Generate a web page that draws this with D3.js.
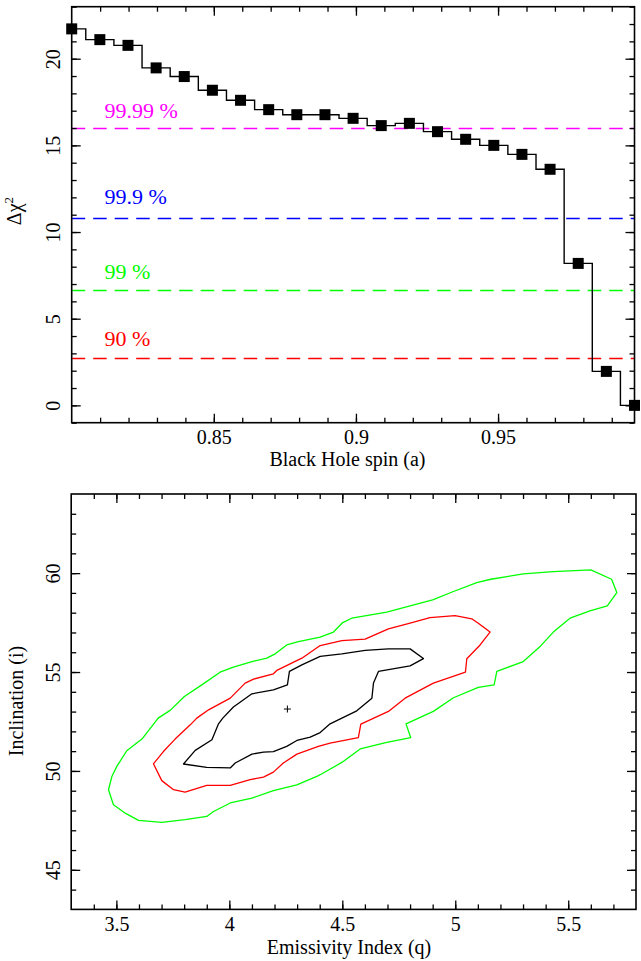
<!DOCTYPE html>
<html><head><meta charset="utf-8">
<script src="https://cdn.jsdelivr.net/npm/d3@7"></script>
<style>
body{margin:0;background:#fff}
svg{display:block}
</style>
</head><body>
<svg id="chart" width="641" height="961"></svg>
<script>
// ---------------- DATA ----------------
const spin = [0.8, 0.8099, 0.8198, 0.8297, 0.8396, 0.8495, 0.8594, 0.8693, 0.8792, 0.8891,
              0.899, 0.9089, 0.9188, 0.9287, 0.9386, 0.9485, 0.9584, 0.9683, 0.9782, 0.9881, 0.998];
const deltaChi2 = [21.72, 21.1, 20.77, 19.47, 18.97, 18.18, 17.6, 17.06, 16.77, 16.77,
                   16.56, 16.14, 16.27, 15.79, 15.35, 15.0, 14.48, 13.62, 8.19, 1.96, 0];
const levelValues = [16.0, 10.83, 6.63, 2.71];
const levelLabels = ["99.99 %", "99.9 %", "99 %", "90 %"];
const levelLabelAt = [16.58, 11.64, 7.29, 3.44];
const spinTicks = [0.85, 0.9, 0.95];
const chiTicks = [0, 5, 10, 15, 20];
const qTicks = [3.5, 4, 4.5, 5, 5.5];
const incTicks = [45, 50, 55, 60];

// contours in (q, i)
const contourOuter = [
 [3.465,49.05],[3.480,49.72],[3.502,50.23],[3.546,51.02],[3.613,51.61],[3.662,52.33],[3.685,52.67],
 [3.738,53.06],[3.801,53.76],[3.878,54.35],[3.959,54.99],[4.018,55.25],[4.100,55.53],[4.166,55.70],
 [4.203,55.92],[4.254,56.37],[4.306,56.54],[4.402,56.76],[4.461,57.02],[4.502,57.50],[4.542,57.72],
 [4.697,58.03],[4.800,58.34],[4.900,58.65],[4.992,59.07],[5.095,59.52],[5.157,59.69],[5.301,59.96],
 [5.434,60.08],[5.600,60.16],[5.692,59.69],[5.715,59.02],[5.673,58.34],[5.596,58.09],[5.508,57.72],
 [5.434,57.02],[5.378,56.32],[5.301,55.53],[5.184,55.03],[5.172,54.35],[5.102,54.22],[4.992,53.70],
 [4.903,53.01],[4.782,52.38],[4.803,51.68],[4.697,51.44],[4.579,51.11],[4.498,50.43],[4.402,49.81],
 [4.387,49.72],[4.299,49.30],[4.195,49.00],[4.100,48.63],[4.004,48.38],[3.930,47.95],[3.900,47.70],
 [3.804,47.54],[3.701,47.40],[3.598,47.50],[3.543,47.84],[3.487,48.29]
];
const contourMiddle = [
 [3.664,50.36],[3.708,50.98],[3.760,51.61],[3.827,52.33],[3.856,52.67],[3.908,53.09],[4.004,53.68],
 [4.070,54.44],[4.107,54.64],[4.195,54.91],[4.210,55.08],[4.321,55.70],[4.402,56.34],[4.498,56.59],
 [4.601,56.66],[4.704,57.18],[4.800,57.47],[4.888,57.75],[4.999,57.85],[5.073,57.69],[5.102,57.47],
 [5.154,57.02],[5.110,56.37],[5.051,55.67],[5.045,54.99],[4.903,54.44],[4.778,53.68],[4.704,53.01],
 [4.582,52.37],[4.571,51.68],[4.446,51.41],[4.394,51.24],[4.299,50.85],[4.239,50.40],[4.195,49.94],
 [4.151,49.69],[4.092,49.56],[4.004,49.27],[3.900,49.27],[3.804,48.93],[3.753,49.05],[3.701,49.51]
];
const contourInner = [
 [3.797,50.35],[3.849,51.04],[3.923,51.58],[3.952,52.38],[3.971,52.67],[4.018,53.23],[4.100,53.90],
 [4.195,54.10],[4.257,54.35],[4.266,55.03],[4.321,55.36],[4.402,55.79],[4.498,55.92],[4.601,56.09],
 [4.704,56.17],[4.800,56.17],[4.859,55.68],[4.800,55.31],[4.660,55.03],[4.638,54.44],[4.631,53.68],
 [4.564,53.04],[4.446,52.38],[4.402,51.94],[4.358,51.71],[4.299,51.54],[4.254,51.24],[4.195,50.98],
 [4.151,50.95],[4.100,50.85],[4.026,50.40],[4.004,50.15],[3.900,50.18]
];
const bestFit = [4.257, 53.13];

// ---------------- DRAWING ----------------
const FONT = "'Liberation Serif', 'Times New Roman', serif";
const svg = d3.select("#chart").style("font-family", FONT);
const levelColors = ["#ff00ff", "#0000ff", "#00ff00", "#ff0000"];
const contourColors = ["#00ff00", "#ff0000", "#000000"];

function frame(g, x, y, xMajor, xMinor, yMajor, yMinor, fmtX, fmtY) {
  const [x0, x1] = x.range();
  const [y0, y1] = y.range();
  const MAJ = 9, MIN = 5;
  const noLab = () => "";
  g.append("g").attr("transform", `translate(0,${y0})`)
    .call(d3.axisBottom(x).tickValues(xMinor).tickSize(-MIN).tickSizeOuter(0).tickFormat(noLab));
  const bx = g.append("g").attr("transform", `translate(0,${y0})`)
    .call(d3.axisBottom(x).tickValues(xMajor).tickSize(-MAJ).tickSizeOuter(0).tickPadding(7).tickFormat(fmtX));
  g.append("g").attr("transform", `translate(0,${y1})`)
    .call(d3.axisTop(x).tickValues(xMinor).tickSize(-MIN).tickSizeOuter(0).tickFormat(noLab));
  g.append("g").attr("transform", `translate(0,${y1})`)
    .call(d3.axisTop(x).tickValues(xMajor).tickSize(-MAJ).tickSizeOuter(0).tickFormat(noLab));
  g.append("g").attr("transform", `translate(${x0},0)`)
    .call(d3.axisLeft(y).tickValues(yMinor).tickSize(-MIN).tickSizeOuter(0).tickFormat(noLab));
  const ly = g.append("g").attr("transform", `translate(${x0},0)`)
    .call(d3.axisLeft(y).tickValues(yMajor).tickSize(-MAJ).tickSizeOuter(0).tickFormat(fmtY));
  g.append("g").attr("transform", `translate(${x1},0)`)
    .call(d3.axisRight(y).tickValues(yMinor).tickSize(-MIN).tickSizeOuter(0).tickFormat(noLab));
  g.append("g").attr("transform", `translate(${x1},0)`)
    .call(d3.axisRight(y).tickValues(yMajor).tickSize(-MAJ).tickSizeOuter(0).tickFormat(noLab));

  g.selectAll(".domain").remove();
  g.selectAll("g").attr("font-family", FONT);
  g.selectAll(".tick line").attr("stroke", "#000").attr("stroke-width", 1.3);
  bx.selectAll("text").attr("font-size", 20).style("font-family", FONT).attr("fill", "#000");
  ly.selectAll("text")
    .attr("font-size", 20).style("font-family", FONT).attr("fill", "#000")
    .attr("x", null).attr("dy", null)
    .attr("text-anchor", "middle")
    .attr("transform", "translate(-11.5,0) rotate(-90)");
  g.append("rect")
    .attr("x", x0).attr("y", y1).attr("width", x1 - x0).attr("height", y0 - y1)
    .attr("fill", "none").attr("stroke", "#000").attr("stroke-width", 1.6);
}

// ----- top panel -----
const xT = d3.scaleLinear().domain([0.8, 0.998]).range([71.7, 634.5]);
const yT = d3.scaleLinear().domain([-1, 23]).range([422.7, 6.7]);
const gT = svg.append("g");

levelValues.forEach((v, k) => {
  const yy = Math.round(yT(v)) + 0.5;
  gT.append("line")
    .attr("x1", xT.range()[0]).attr("x2", xT.range()[1])
    .attr("y1", yy).attr("y2", yy)
    .attr("stroke", levelColors[k]).attr("stroke-width", 1.4)
    .attr("stroke-dasharray", "13.5,8");
  gT.append("text")
    .attr("x", xT(0.8115)).attr("y", yT(levelLabelAt[k]))
    .attr("font-size", 22).style("font-family", FONT).attr("fill", levelColors[k])
    .text(levelLabels[k]);
});

const pts = spin.map((s, k) => [s, deltaChi2[k]]);
gT.append("path")
  .attr("d", d3.line().x(d => xT(d[0])).y(d => yT(d[1])).curve(d3.curveStep)(pts))
  .attr("fill", "none").attr("stroke", "#000").attr("stroke-width", 1.4);
gT.selectAll("rect.pt").data(pts).join("rect").attr("class", "pt")
  .attr("x", d => xT(d[0]) - 5.5).attr("y", d => yT(d[1]) - 5.5)
  .attr("width", 11).attr("height", 11).attr("fill", "#000");

frame(gT, xT, yT, spinTicks, d3.range(0.81, 0.995, 0.01), chiTicks, d3.range(-1, 23.5, 1),
      d => String(d), d => String(d));

gT.append("text").attr("x", 347.5).attr("y", 466).attr("text-anchor", "middle")
  .attr("font-size", 20).style("font-family", FONT).text("Black Hole spin (a)");
const yl = gT.append("text").attr("transform", `translate(20.5,${211}) rotate(-90)`)
  .attr("text-anchor", "middle").attr("font-size", 20).style("font-family", FONT);
yl.append("tspan").text("Δχ");
yl.append("tspan").attr("font-size", 13).attr("dy", -8).text("2");

// ----- bottom panel -----
const xB = d3.scaleLinear().domain([3.3, 5.8]).range([71.2, 636]);
const yB = d3.scaleLinear().domain([43, 64]).range([909.4, 494]);
const gB = svg.append("g");

const cLine = d3.line().x(d => xB(d[0])).y(d => yB(d[1])).curve(d3.curveLinearClosed);
[contourOuter, contourMiddle, contourInner].forEach((c, k) => {
  gB.append("path").attr("d", cLine(c))
    .attr("fill", "none").attr("stroke", contourColors[k]).attr("stroke-width", 1.3)
    .attr("stroke-linejoin", "round");
});
const bx0 = xB(bestFit[0]), by0 = yB(bestFit[1]);
gB.append("path").attr("d", `M${bx0 - 3.5},${by0}H${bx0 + 3.5}M${bx0},${by0 - 3.5}V${by0 + 3.5}`)
  .attr("stroke", "#000").attr("stroke-width", 1);

frame(gB, xB, yB, qTicks, d3.range(3.4, 5.75, 0.1), incTicks, d3.range(44, 64, 1),
      d => String(d), d => String(d));

gB.append("text").attr("x", 349).attr("y", 953.5).attr("text-anchor", "middle")
  .attr("font-size", 20).style("font-family", FONT).text("Emissivity Index (q)");
gB.append("text").attr("transform", `translate(22.5,${701}) rotate(-90)`)
  .attr("text-anchor", "middle").attr("font-size", 20).style("font-family", FONT).text("Inclination (i)");
</script>
</body></html>
